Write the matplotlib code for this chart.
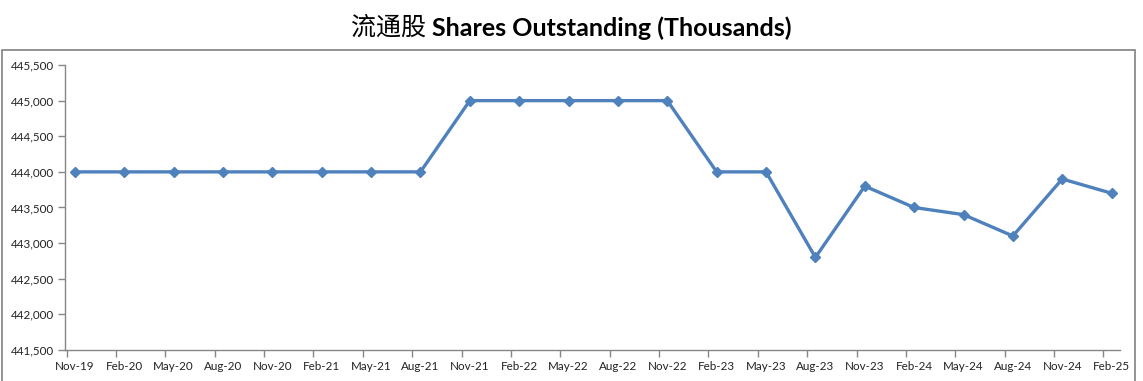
import matplotlib
matplotlib.use("Agg")
import matplotlib.pyplot as plt
from matplotlib.patches import Rectangle
from matplotlib.ticker import FuncFormatter

quarters = ["Nov-19", "Feb-20", "May-20", "Aug-20", "Nov-20", "Feb-21", "May-21", "Aug-21",
            "Nov-21", "Feb-22", "May-22", "Aug-22", "Nov-22", "Feb-23", "May-23", "Aug-23",
            "Nov-23", "Feb-24", "May-24", "Aug-24", "Nov-24", "Feb-25"]
shares = [444000, 444000, 444000, 444000, 444000, 444000, 444000, 444000,
          445000, 445000, 445000, 445000, 445000, 444000, 444000, 442800,
          443800, 443500, 443400, 443100, 443900, 443700]

plt.rcParams['font.family'] = ['Lato', 'DejaVu Sans']

fig = plt.figure(figsize=(11.43, 3.81), dpi=100)
ax = fig.add_axes([65/1143, 1 - 350/381, (1120 - 65)/1143, (350 - 65)/381])

x = list(range(len(quarters)))
ax.plot(x, shares, color='#4F81BD', lw=2.4, marker='D', ms=5.5,
        markerfacecolor='#4F81BD', markeredgecolor='#4F81BD', zorder=3)

ax.set_ylim(441500, 445500)
ax.set_yticks(range(441500, 445501, 500))
ax.yaxis.set_major_formatter(FuncFormatter(lambda v, p: '{:,.0f}'.format(v)))

# ticks sit half a month before each labelled point, labels centred on the point
ax.set_xlim(-0.2, len(quarters) - 1 + 0.17)
ax.set_xticks([i - 1/6 for i in x])
ax.set_xticklabels([])
ax.set_xticks(x, minor=True)
ax.set_xticklabels(quarters, minor=True)
ax.tick_params(axis='x', which='minor', length=0, pad=8, labelsize=8.4, colors='#222222')
ax.tick_params(axis='x', which='major', length=5, color='#868686', width=1)
ax.tick_params(axis='y', length=5, color='#868686', width=1, labelsize=8.4,
               labelcolor='#222222', pad=3)

for s in ['top', 'right']:
    ax.spines[s].set_visible(False)
for s in ['left', 'bottom']:
    ax.spines[s].set_color('#868686')
    ax.spines[s].set_linewidth(1)

# chart border
fig.patches.append(Rectangle((2/1143, -0.05), (1135 - 2)/1143, 0.05 + 1 - 50/381,
                             transform=fig.transFigure, fill=False,
                             edgecolor='#808080', lw=1.2))

fig.text(426/1143, 1 - 28/381, '流通股', family=['Noto Sans CJK SC', 'DejaVu Sans'],
         fontsize=18, ha='right', va='center', color='black')
fig.text(432/1143, 1 - 28/381, 'Shares Outstanding (Thousands)', fontsize=18,
         fontweight='bold', ha='left', va='center', color='black')

fig.savefig('out.png', dpi=100)
